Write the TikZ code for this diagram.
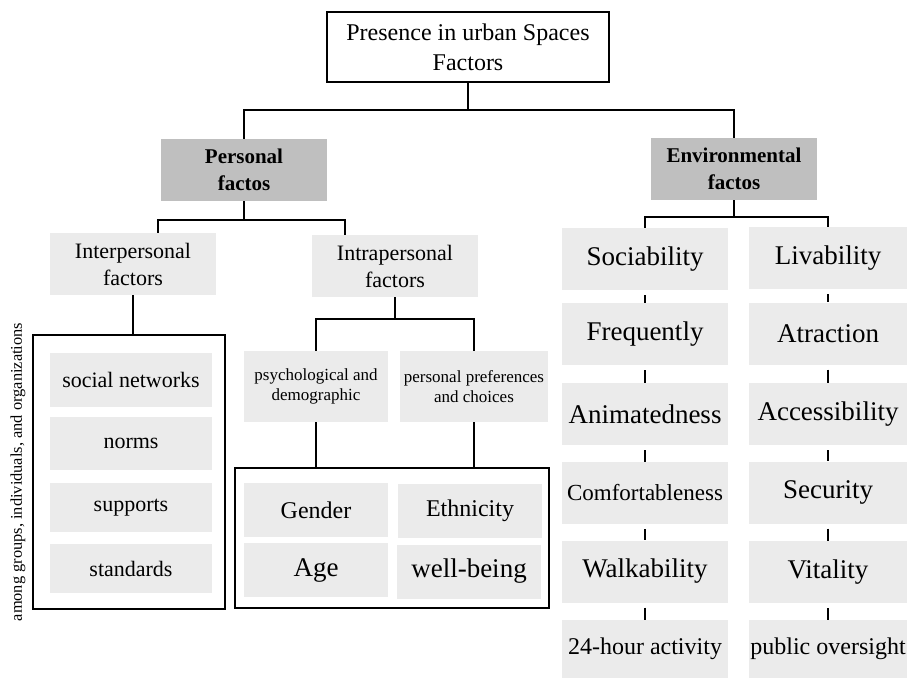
\documentclass[tikz,border=0pt]{standalone}
\usepackage{fontspec}
\setmainfont{Liberation Serif}
\definecolor{boxgray}{HTML}{EBEBEB}
\definecolor{headgray}{HTML}{BFBFBF}
\begin{document}
\begin{tikzpicture}[x=1pt,y=-1pt,
    lbox/.style={fill=boxgray,inner sep=0pt,align=center},
    head/.style={fill=headgray,minimum width=166pt,minimum height=62pt,inner sep=0pt,align=center,font=\fontsize{21}{27}\selectfont\bfseries},
    frame/.style={draw,line width=1.2pt,minimum width=#1},
    link/.style={line width=2pt},
    tick/.style={line width=1.5pt,shorten <=5pt},
    big/.style={font=\fontsize{27}{32}\selectfont},
    mid/.style={font=\fontsize{22}{27}\selectfont},
    small/.style={font=\fontsize{17}{20}\selectfont}]
        \useasboundingbox (0,0) rectangle (907,678);
        %% Root
        \node[draw,line width=1.2pt,minimum width=282pt,minimum height=70pt,inner sep=0pt,align=center,font=\fontsize{24}{30}\selectfont] (root) at (468,47) {Presence in urban Spaces\\Factors};
        \node[head] (pers) at (244,170) {Personal\\factos};
        \node[head] (env) at (734,169) {Environmental\\factos};
        \draw[link] (root.south) -- ++(0,27) -| (pers.north);
        \draw[link] (root.south) ++(0,27) -| (env.north);
        %% Personal side
        \node[lbox,mid,minimum width=166pt,minimum height=62pt] (inter) at (133,264) {Interpersonal\\factors};
        \node[lbox,mid,minimum width=166pt,minimum height=62pt] (intra) at (395,266) {Intrapersonal\\factors};
        \draw[link] (pers.south) -- ++(0,19) -| ([xshift=25pt]inter.north);
        \draw[link] (pers.south) ++(0,19) -| ([xshift=-50pt]intra.north);
        \node[frame=192pt,minimum height=274pt] (grpframe) at (129,472) {};
        \node[rotate=90,font=\fontsize{16.4}{20}\selectfont] (grplabel) at (18,472) {among groups, individuals, and organizations};
        \node[lbox,mid,minimum width=162pt,minimum height=54pt] (social) at (131,380) {social networks};
        \node[lbox,mid,minimum width=162pt,minimum height=53pt] (norms) at (131,443.5) {norms};
        \node[lbox,mid,minimum width=162pt,minimum height=49pt] (supports) at (131,507.5) {supports};
        \node[lbox,mid,minimum width=162pt,minimum height=49pt] (standards) at (131,568.5) {standards};
        \draw[link] (inter.south) -- (inter.south |- grpframe.north);
        \node[lbox,small,minimum width=144pt,minimum height=71pt] (psych) at (316,386.5) {psychological and\\demographic};
        \node[lbox,small,minimum width=148pt,minimum height=71pt] (pref) at (474,386.5) {personal preferences\\and choices};
        \draw[link] (intra.south) -- ++(0,22) -| (psych.north);
        \draw[link] (intra.south) ++(0,22) -| (pref.north);
        \node[frame=314pt,minimum height=140pt] (demframe) at (392,538) {};
        \draw[link] (psych.south) -- (psych.south |- demframe.north);
        \draw[link] (pref.south) -- (pref.south |- demframe.north);
        \node[lbox,font=\fontsize{24}{28}\selectfont,minimum width=144pt,minimum height=54pt] (gender) at (316,510) {Gender};
        \node[lbox,font=\fontsize{24}{28}\selectfont,minimum width=144pt,minimum height=54pt] (ethnic) at (470,510.5) {Ethnicity};
        \node[lbox,big,minimum width=144pt,minimum height=54pt] (age) at (316,570) {Age};
        \node[lbox,big,minimum width=144pt,minimum height=54pt] (wellb) at (469,571.5) {well-being};
        %% Environmental side
        \node[lbox,big,minimum width=166pt,minimum height=62pt] (soc) at (645,259) {Sociability};
        \node[lbox,big,minimum width=166pt,minimum height=62pt] (freq) at (645,334) {Frequently};
        \node[lbox,big,minimum width=166pt,minimum height=62pt] (anim) at (645,414) {Animatedness};
        \node[lbox,font=\fontsize{23}{28}\selectfont,minimum width=166pt,minimum height=62pt] (comf) at (645,493) {Comfortableness};
        \node[lbox,big,minimum width=166pt,minimum height=62pt] (walk) at (645,571.5) {Walkability};
        \node[lbox,font=\fontsize{24}{28}\selectfont,minimum width=166pt,minimum height=58pt] (act) at (645,649) {24-hour activity};
        \node[lbox,big,minimum width=158pt,minimum height=62pt] (liv) at (828,258) {Livability};
        \node[lbox,big,minimum width=158pt,minimum height=62pt] (attr) at (828,333.5) {Atraction};
        \node[lbox,big,minimum width=158pt,minimum height=62pt] (acc) at (828,414) {Accessibility};
        \node[lbox,big,minimum width=158pt,minimum height=62pt] (sec) at (828,492.5) {Security};
        \node[lbox,big,minimum width=158pt,minimum height=62pt] (vit) at (828,572) {Vitality};
        \node[lbox,font=\fontsize{24}{28}\selectfont,minimum width=158pt,minimum height=58pt] (pub) at (828,649) {public oversight};
        \draw[link] (env.south) -- ++(0,17) -| (soc.north);
        \draw[link] (env.south) ++(0,17) -| (liv.north);
        \foreach \a/\b in {soc/freq,freq/anim,anim/comf,comf/walk,walk/act,liv/attr,attr/acc,acc/sec,sec/vit,vit/pub}
            \draw[tick] (\a.south) -- (\b.north);
\end{tikzpicture}
\end{document}
